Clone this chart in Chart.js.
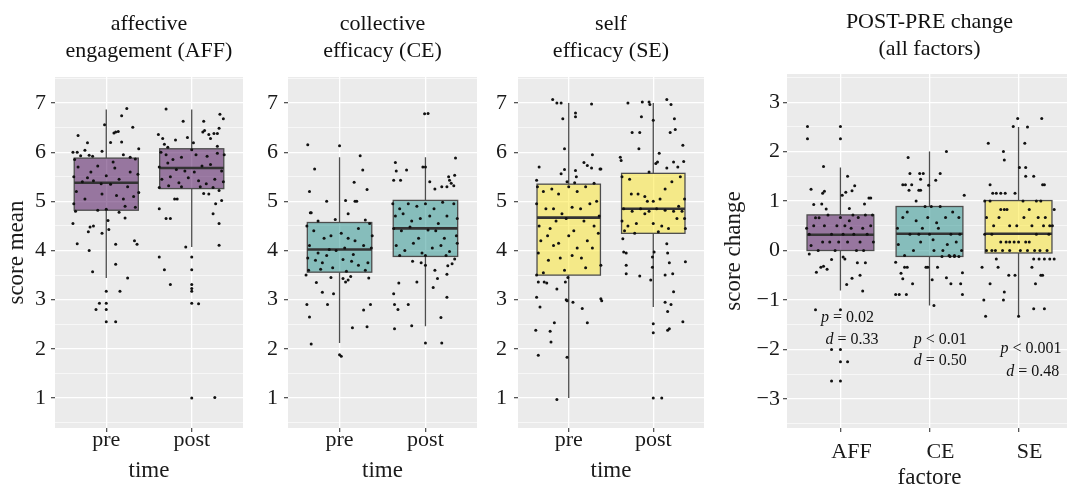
<!DOCTYPE html>
<html>
<head>
<meta charset="utf-8">
<script src="https://cdn.jsdelivr.net/npm/chart.js@4.4.0/dist/chart.umd.min.js"></script>
<style>
  body { margin: 0; background: #fff; width: 1067px; height: 488px; overflow: hidden; position: relative; }
  canvas { position: absolute; top: 0; }
</style>
</head>
<body>
<canvas id="c1"></canvas>
<canvas id="c2"></canvas>
<canvas id="c3"></canvas>
<canvas id="c4"></canvas>
<script>
// categories and tick labels
const timeLabels = ['pre', 'post'];
const factorLabels = ['AFF', 'CE', 'SE'];
const meanTicks = [1, 2, 3, 4, 5, 6, 7];
const changeTicks = [-3, -2, -1, 0, 1, 2, 3];

// box stats per category: [whisker low, Q1, median, Q3, whisker high]
const affBox = [[3.44, 4.82, 5.38, 5.88, 6.87], [4.07, 5.26, 5.68, 6.07, 6.87]];
const ceBox = [[2.12, 3.56, 4.02, 4.57, 5.90], [2.46, 3.88, 4.45, 5.02, 5.90]];
const seBox = [[1.00, 3.50, 4.67, 5.35, 7.00], [2.85, 4.35, 4.85, 5.57, 7.00]];
const changeBox = [[-0.81, 0.00, 0.32, 0.72, 1.68], [-1.11, -0.12, 0.34, 0.89, 2.00], [-1.35, -0.05, 0.34, 1.01, 2.50]];

// jittered observations: [jitter, score]
const affPre = [[0.24,6.89],[0.18,6.74],[-0.02,6.56],[0.31,6.51],[0.09,6.39],[0.11,6.41],[0.14,6.42],[-0.33,6.34],[-0.22,6.19],[0.05,6.2],[0.18,6.21],[0.38,6.07],[-0.05,6.02],[-0.39,6.0],[-0.34,6.0],[-0.25,6.04],
  [-0.37,5.85],[-0.3,5.93],[-0.2,5.94],[-0.16,5.92],[0.2,5.95],[0.28,5.9],[0.34,5.86],[-0.33,5.7],[-0.1,5.72],[0.1,5.68],[0.28,5.6],[0.37,5.55],[-0.38,5.5],[-0.22,5.48],[0.0,5.52],[0.15,5.45],[0.25,5.3],[-0.28,5.4],[-0.15,5.42],[-0.06,5.36],[0.05,5.35],[-0.35,5.2],[-0.05,5.15],[0.12,5.12],[0.32,5.1],[0.38,5.18],[-0.25,5.05],[0.2,5.05],[-0.38,4.95],[-0.1,4.82],[0.0,4.84],[0.22,4.9],[0.34,4.88],[-0.36,4.8],[-0.18,5.6],[0.08,5.8],
  [-0.39,4.55],[-0.34,4.14],[-0.2,4.0],[-0.19,4.48],[-0.15,4.5],[-0.21,4.38],[-0.16,3.57],[-0.12,2.8],[-0.08,2.93],[0,3.17],[0,2.93],[0,2.8],[0,2.55],[0.11,2.55],[0.16,3.17],[0.11,3.72],[0.11,4.13],[-0.05,4.35],[0.02,4.61],[0.03,4.43],[0.25,3.44],[0.33,4.2],[0.36,4.13],[0.22,4.66],[0.15,4.78]];
const affPost = [[-0.3,6.88],[-0.1,6.63],[-0.39,6.36],[-0.34,6.28],[-0.32,6.16],[-0.19,6.25],[0.02,6.19],[0.14,6.63],[0.15,6.44],[0.13,6.41],[0.2,6.36],[0.26,6.38],[0.22,6.28],[0.33,6.77],[0.37,6.68],[0.32,6.49],[0.3,6.38],[-0.05,6.3],[-0.28,6.1],[0.0,6.05],[0.3,6.12],
  [-0.36,6.0],[-0.3,5.95],[-0.22,5.85],[-0.12,5.9],[0.05,5.95],[0.18,5.92],[0.3,5.98],[0.38,5.95],[-0.38,5.7],[-0.28,5.78],[-0.18,5.65],[-0.08,5.62],[0.03,5.6],[0.12,5.72],[0.22,5.75],[0.35,5.62],[-0.35,5.45],[-0.25,5.5],[-0.15,5.38],[-0.04,5.48],[0.08,5.42],[0.17,5.36],[0.27,5.45],[0.37,5.4],[-0.38,5.28],[-0.27,5.32],[-0.12,5.3],[0.1,5.3],[0.25,5.28],[0.32,5.22],
  [-0.38,4.85],[-0.3,4.65],[-0.25,4.65],[-0.38,3.87],[-0.32,3.61],[-0.25,3.31],[-0.07,4.07],[0,3.87],[0,3.61],[0,3.31],[0,3.23],[0,3.17],[0,2.93],[0.08,2.92],[0,1.0],[0.27,1.01],[0.32,4.11],[0.32,4.55],[0.25,4.75],[0.35,5.02],[0.14,5.16],[0.2,5.15],[-0.2,5.05],[-0.17,5.05],[0.28,4.95]];
const cePre = [[-0.37,6.15],[0.0,6.13],[-0.29,5.66],[-0.35,5.2],[-0.34,4.77],[-0.33,4.77],[-0.15,5.0],[0.07,5.02],[0.17,5.39],[0.24,5.93],[0.27,5.64],[0.32,5.24],[0.18,5.0],[0.2,5.0],[-0.05,4.63],[0.1,4.75],[0.3,4.62],[-0.25,4.6],
  [-0.38,4.5],[-0.3,4.4],[-0.18,4.25],[-0.1,4.3],[0.02,4.35],[0.1,4.25],[0.22,4.45],[0.35,4.55],[0.38,4.3],[-0.35,4.1],[-0.25,3.95],[-0.12,4.02],[-0.04,4.0],[0.06,4.05],[0.16,3.92],[0.28,4.1],[0.37,4.05],[-0.37,3.85],[-0.28,3.8],[-0.2,3.75],[-0.08,3.65],[0.04,3.82],[0.14,3.78],[0.22,3.7],[0.33,3.75],[-0.36,3.6],[-0.22,3.62],[0.08,3.58],[0.3,3.6],[-0.15,3.9],[0.18,4.2],
  [-0.39,3.5],[-0.38,2.9],[-0.35,2.65],[-0.33,2.1],[-0.2,3.15],[-0.14,2.9],[-0.07,3.12],[0.0,1.88],[0.02,1.85],[0.15,2.43],[0.32,2.45],[0.36,2.9],[0.28,2.79],[0.34,3.44],[0.04,3.43],[0.07,3.36],[0.13,3.47],[-0.1,3.45],[-0.27,3.35],[0.1,3.4]];
const cePost = [[-0.37,5.43],[-0.34,5.62],[-0.29,5.43],[-0.22,5.64],[-0.03,5.7],[0.0,5.7],[-0.01,6.78],[0.03,6.79],[0.27,5.5],[0.19,5.3],[0.25,5.3],[0.28,5.43],[0.3,5.37],[0.33,5.32],[0.34,5.53],[0.35,5.88],[0.11,5.25],[0.05,5.4],[-0.35,5.79],
  [-0.38,4.95],[-0.3,4.85],[-0.2,4.95],[-0.1,4.9],[0.0,4.95],[0.1,4.85],[0.2,4.98],[0.33,4.95],[-0.35,4.7],[-0.26,4.75],[-0.16,4.6],[-0.06,4.65],[0.05,4.7],[0.15,4.55],[0.25,4.7],[0.37,4.65],[-0.37,4.45],[-0.28,4.4],[-0.18,4.48],[-0.08,4.25],[0.03,4.42],[0.12,4.4],[0.22,4.25],[0.36,4.3],[-0.34,4.1],[-0.24,4.0],[-0.14,4.15],[-0.04,3.95],[0.08,4.05],[0.18,4.1],[0.28,3.98],[0.37,4.15],[-0.3,3.9],[0.0,3.9],[0.24,3.9],
  [-0.37,3.12],[-0.36,2.9],[-0.32,2.8],[-0.36,2.41],[-0.31,3.34],[-0.2,2.9],[-0.16,2.47],[-0.1,3.36],[0.0,2.12],[0.11,3.6],[0.09,3.25],[0.14,3.43],[0.19,2.12],[0.18,2.64],[0.25,3.05],[0.25,3.52],[0.26,3.69],[0.31,3.73],[0.34,3.83],[-0.05,3.75],[-0.15,3.78],[0.0,3.7]];
const sePre = [[-0.19,7.07],[-0.14,7.0],[-0.09,7.0],[-0.07,6.68],[0.08,6.8],[0.08,6.72],[0.27,6.98],[-0.05,6.07],[-0.09,5.56],[-0.05,5.65],[-0.35,5.7],[-0.38,5.43],[0.08,5.63],[0.09,5.5],[0.07,5.38],[0.18,5.79],[0.22,5.73],[0.28,5.95],[0.27,5.68],[0.37,5.66],[0.38,5.66],[0.3,5.37],[-0.02,5.4],
  [-0.37,5.3],[-0.3,5.2],[-0.2,5.25],[-0.12,5.15],[0.0,5.3],[0.1,5.2],[0.2,5.3],[0.33,5.0],[-0.38,4.95],[-0.27,4.85],[-0.18,4.85],[-0.08,4.75],[0.04,4.88],[0.14,4.85],[0.25,4.95],[0.36,4.7],[-0.35,4.5],[-0.22,4.45],[-0.15,4.6],[-0.03,4.65],[0.06,4.4],[0.18,4.6],[0.3,4.5],[-0.33,4.2],[-0.25,4.3],[-0.12,4.15],[0.0,4.3],[0.1,4.05],[0.22,4.2],[0.35,4.35],[-0.36,3.95],[-0.24,3.8],[-0.1,3.85],[0.04,3.9],[0.15,3.85],[0.28,4.05],[0.38,3.7],[-0.3,3.55],[-0.05,3.6],[0.2,3.65],[-0.18,4.1],
  [-0.38,3.5],[-0.36,3.36],[-0.29,3.36],[-0.26,3.34],[-0.38,3.05],[-0.34,2.85],[-0.39,2.38],[-0.36,1.87],[-0.17,2.53],[-0.22,2.36],[-0.21,2.14],[-0.14,0.97],[-0.14,3.22],[-0.04,3.36],[-0.03,3.0],[-0.02,2.98],[-0.02,1.83],[0.05,2.95],[0.16,2.82],[0.22,2.53],[0.38,3.02],[0.39,2.98],[-0.01,3.45]];
const sePost = [[-0.3,7.0],[-0.13,7.02],[-0.05,7.02],[-0.04,6.97],[0.16,7.07],[0.21,6.97],[0.25,6.68],[0.26,6.46],[0.2,6.4],[-0.25,6.4],[-0.14,6.72],[-0.17,6.07],[-0.16,6.4],[0.0,6.65],[-0.39,5.9],[-0.38,5.83],[0.07,5.98],[0.03,5.77],[0.16,5.68],[0.24,5.8],[0.29,5.7],[0.35,6.14],[0.36,5.81],[0.05,5.8],[-0.05,5.6],
  [-0.37,5.5],[-0.28,5.45],[-0.18,5.15],[-0.26,5.15],[-0.1,5.1],[0.0,5.0],[0.08,5.05],[0.14,5.25],[0.22,5.4],[0.32,5.5],[0.37,5.05],[-0.35,4.85],[-0.25,4.8],[-0.15,4.85],[-0.05,4.8],[0.04,4.85],[0.14,4.82],[0.24,4.8],[0.34,4.8],[0.37,4.65],[-0.37,4.6],[-0.3,4.5],[-0.2,4.55],[-0.1,4.75],[0.0,4.55],[0.1,4.5],[0.18,4.45],[0.28,4.65],[0.38,4.45],[-0.34,4.4],[-0.22,4.35],[0.06,4.38],[0.3,4.9],[-0.07,5.0],
  [-0.36,4.24],[-0.35,3.97],[-0.32,3.95],[-0.32,3.7],[-0.32,3.53],[-0.16,3.48],[-0.03,3.4],[-0.01,3.66],[0.01,3.97],[-0.01,3.87],[0.0,2.51],[0.0,2.33],[0.0,1.0],[0.1,1.0],[0.14,3.5],[0.17,3.95],[0.19,3.75],[0.16,4.14],[0.23,3.53],[0.24,3.16],[0.14,2.95],[0.17,2.76],[0.21,2.9],[0.19,2.41],[0.17,2.38],[0.35,2.55],[0.38,3.77]];
const chgAff = [[-0.37,2.51],[-0.37,2.26],[0,2.51],[0,2.26],[-0.19,1.7],[-0.33,1.24],[-0.2,1.16],[-0.18,1.2],[0.08,1.5],[0.02,1.12],[0.06,1.18],[0.13,1.21],[0.16,1.31],[-0.3,0.93],[-0.21,0.94],[-0.16,0.84],[0.27,0.94],[0.32,1.06],[0.34,1.06],[0.1,0.85],
  [-0.38,0.45],[-0.35,0.33],[-0.3,0.5],[-0.28,0.66],[-0.24,0.66],[-0.2,0.17],[-0.18,0.5],[-0.14,0.72],[-0.1,0.33],[-0.06,0.0],[-0.04,0.5],[0.0,0.67],[0.03,0.33],[0.05,0.5],[0.08,0.17],[0.1,0.6],[0.12,0.45],[0.15,0.33],[0.18,0.0],[0.2,0.67],[0.22,0.17],[0.25,0.45],[0.28,0.72],[0.3,0.33],[0.34,0.5],[0.37,0.17],[-0.25,0.0],[-0.33,0.1],[0.36,0.72],[-0.12,0.17],[0.14,0.72],[0.26,0.0],[-0.02,0.17],
  [-0.35,-0.07],[-0.27,-0.44],[-0.22,-0.34],[-0.19,-0.32],[-0.15,-0.38],[-0.1,-0.18],[0.03,-0.13],[0.05,-0.17],[0.07,-0.69],[0.13,-0.56],[0.19,-0.25],[0.22,-0.5],[0.25,-0.82],[0.28,-0.25],[-0.28,-1.2],[0,-1.2],[-0.1,-2.0],[0,-2.0],[0,-2.25],[0.08,-2.25],[-0.1,-2.64],[0,-2.64]];
const chgCe = [[-0.24,1.88],[-0.22,1.56],[-0.11,1.56],[-0.07,1.56],[-0.3,1.33],[-0.27,1.33],[-0.23,1.22],[-0.12,1.22],[-0.1,1.22],[-0.1,1.44],[-0.01,1.32],[0.07,1.42],[0.12,1.56],[0.19,2.0],[0.39,1.12],[-0.15,1.0],[-0.2,1.33],[0.02,0.89],
  [-0.36,0.45],[-0.35,0.12],[-0.3,0.67],[-0.25,0.78],[-0.22,0.33],[-0.18,0.0],[-0.15,0.6],[-0.12,0.33],[-0.08,0.45],[-0.05,0.89],[0.0,0.33],[0.05,0.0],[0.08,0.56],[0.1,0.45],[0.12,0.89],[0.15,0.0],[0.18,0.67],[0.2,0.12],[0.24,0.33],[0.26,0.78],[0.3,0.17],[0.33,0.67],[0.36,0.0],[-0.28,-0.1],[0.22,-0.1],[0.28,-0.1],[-0.02,0.67],[0.04,0.22],[-0.1,0.17],[0.34,0.33],
  [-0.38,-0.24],[-0.32,-0.46],[-0.3,-0.57],[-0.28,-0.34],[-0.25,-0.34],[-0.19,-0.67],[-0.38,-0.89],[-0.34,-0.89],[-0.26,-0.89],[-0.04,-0.34],[-0.02,-0.34],[0.03,-0.59],[0.05,-1.11],[0.09,-0.34],[0.19,-0.55],[0.24,-0.67],[0.35,-0.67],[0.37,-0.45],[0.37,-0.89],[0.14,-0.12],[0.23,-0.12],[0.28,-0.12],[0.33,-0.12]];
const chgSe = [[-0.01,2.67],[0.26,2.67],[-0.06,2.51],[0.1,2.5],[-0.34,2.17],[0.07,2.17],[-0.17,2.0],[-0.16,1.83],[0.01,1.68],[0.08,1.68],[0.08,1.5],[0.17,1.5],[-0.32,1.33],[0.27,1.33],[0.29,1.33],[-0.29,1.16],[-0.25,1.16],[-0.2,1.16],[-0.15,1.16],[-0.04,1.16],[0.4,0.83],
  [-0.38,1.0],[-0.32,1.0],[-0.2,0.83],[-0.16,0.83],[-0.13,0.83],[0.05,1.0],[0.12,0.83],[0.2,1.0],[0.25,1.0],[0.3,0.67],[0.35,0.5],[-0.36,0.67],[-0.28,0.5],[-0.22,0.67],[-0.1,0.5],[-0.02,0.5],[0.06,0.67],[0.15,0.5],[0.22,0.67],[0.28,0.5],[-0.38,0.33],[-0.3,0.33],[-0.2,0.17],[-0.14,0.17],[-0.1,0.17],[-0.05,0.17],[0.0,0.17],[0.08,0.17],[0.12,0.17],[0.2,0.33],[0.34,0.33],[-0.36,0.0],[-0.3,0.0],[-0.26,0.0],[-0.18,0.0],[-0.1,0.0],[0.02,0.0],[0.1,0.0],[0.18,0.0],[0.24,0.0],[0.32,0.0],[0.38,0.5],
  [-0.41,-0.34],[-0.23,-0.34],[-0.32,-0.67],[-0.39,-1.0],[-0.17,-1.0],[-0.16,-0.84],[-0.37,-1.33],[-0.11,-0.5],[-0.04,-0.5],[0.17,-0.17],[0.23,-0.17],[0.29,-0.17],[0.4,-0.17],[0.25,-0.5],[0.27,-0.5],[0.19,-0.67],[0.17,-1.18],[0.29,-1.18],[0.15,-0.34],[0.0,-1.33],[-0.25,-0.17],[0.35,-0.17]];

// test statistics shown under the change boxes
const pRel = ['=', '<', '<'];
const pVals = ['0.02', '0.01', '0.001'];
const dVals = ['0.33', '0.50', '0.48'];
// where those labels sit, in axis units
const pAt = [[1.08, -1.37], [2.12, -1.81], [3.14, -1.98]];
const dAt = [[1.13, -1.80], [2.12, -2.24], [3.16, -2.46]];

const SERIF = "'Liberation Serif', 'Times New Roman', serif";
const PURPLE = 'rgba(68, 1, 84, 0.5)';
const TEAL = 'rgba(33, 144, 140, 0.5)';
const YELLOW = 'rgba(253, 231, 37, 0.5)';

const panelPlugin = {
  id: 'panel',
  beforeDraw(chart) {
    const a = chart.chartArea, ctx = chart.ctx;
    ctx.save();
    ctx.fillStyle = '#ebebeb';
    ctx.fillRect(a.left, a.top, a.right - a.left, a.bottom - a.top);
    ctx.restore();
  },
  beforeDatasetsDraw(chart, args, opts) {
    const ctx = chart.ctx, x = chart.scales.x, y = chart.scales.y;
    opts.stats.forEach((s, i) => {
      const c = i + 1;
      const xc = x.getPixelForValue(c);
      const x0 = x.getPixelForValue(c - 0.375), x1 = x.getPixelForValue(c + 0.375);
      const [lo, q1, med, q3, hi] = s.map(v => y.getPixelForValue(v));
      ctx.save();
      ctx.strokeStyle = '#4d4d4d';
      ctx.lineWidth = 1.3;
      ctx.beginPath();
      ctx.moveTo(xc, q3); ctx.lineTo(xc, hi);
      ctx.moveTo(xc, q1); ctx.lineTo(xc, lo);
      ctx.stroke();
      ctx.fillStyle = opts.colors[i];
      ctx.fillRect(x0, q3, x1 - x0, q1 - q3);
      ctx.strokeRect(x0, q3, x1 - x0, q1 - q3);
      ctx.strokeStyle = '#333';
      ctx.lineWidth = 2.6;
      ctx.beginPath();
      ctx.moveTo(x0, med); ctx.lineTo(x1, med);
      ctx.stroke();
      ctx.restore();
    });
  },
  afterDraw(chart, args, opts) {
    const ctx = chart.ctx, a = chart.chartArea;
    const cx = (a.left + a.right) / 2;
    ctx.save();
    ctx.fillStyle = '#111';
    ctx.textAlign = 'center';
    ctx.textBaseline = 'alphabetic';
    ctx.font = '22px ' + SERIF;
    opts.title.forEach((line, i) => ctx.fillText(line, cx, opts.titleBase[i]));
    if (opts.stat) {
      const x = chart.scales.x, y = chart.scales.y;
      ctx.font = '16px ' + SERIF;
      ctx.textBaseline = 'middle';
      ctx.textAlign = 'left';
      const drawStat = (sym, rest, at) => {
        ctx.font = 'italic 16px ' + SERIF;
        const w1 = ctx.measureText(sym).width;
        ctx.font = '16px ' + SERIF;
        const w2 = ctx.measureText(rest).width;
        const left = x.getPixelForValue(at[0]) - (w1 + w2) / 2;
        const py = y.getPixelForValue(at[1]);
        ctx.font = 'italic 16px ' + SERIF;
        ctx.fillText(sym, left, py);
        ctx.font = '16px ' + SERIF;
        ctx.fillText(rest, left + w1, py);
      };
      pVals.forEach((v, i) => {
        drawStat('p', ' ' + pRel[i] + ' ' + v, pAt[i]);
        drawStat('d', ' = ' + dVals[i], dAt[i]);
      });
    }
    ctx.restore();
  }
};

function fmt(v) {
  return String(v).replace('-', '\u2212');
}

function makePanel(p) {
  const el = document.getElementById(p.id);
  el.width = p.width;
  el.height = 488;
  el.style.left = p.left + 'px';
  const datasets = p.groups.map((g, i) => ({
    type: 'scatter',
    data: g.map(([dx, v]) => ({ x: i + 1 + dx, y: v })),
    pointRadius: 1.5,
    pointBackgroundColor: '#111',
    pointBorderWidth: 0
  }));
  new Chart(el.getContext('2d'), {
    type: 'scatter',
    data: { datasets },
    plugins: [panelPlugin],
    options: {
      responsive: false,
      animation: false,
      events: [],
      layout: { padding: { top: p.area[1], right: p.width - p.area[2], bottom: 0, left: 0 } },
      plugins: {
        legend: { display: false },
        tooltip: { enabled: false },
        panel: { stats: p.boxes, colors: p.colors, title: p.title, titleBase: p.titleBase, stat: p.stat }
      },
      scales: {
        x: {
          type: 'linear',
          min: 0.4,
          max: p.xMax,
          afterBuildTicks: s => { s.ticks = p.cats.map((_, i) => ({ value: i + 1 })); },
          afterFit: s => { s.height = 488 - p.area[3]; },
          ticks: {
            callback: v => p.cats[v - 1],
            autoSkip: false,
            maxRotation: 0,
            padding: p.xTickPad,
            labelOffset: p.labelOffset,
            color: '#1a1a1a',
            font: { family: SERIF, size: 22, lineHeight: 1 }
          },
          grid: { color: '#ffffff', lineWidth: 1.3, tickLength: 4, tickColor: '#555' },
          border: { display: false },
          title: {
            display: true,
            text: p.xTitle,
            color: '#1a1a1a',
            font: { family: SERIF, size: 23, lineHeight: 1 },
            padding: { top: 0, bottom: p.xTitlePad }
          }
        },
        y: {
          type: 'linear',
          min: p.yRange[0],
          max: p.yRange[1],
          afterBuildTicks: s => {
            const vals = [];
            for (let v = Math.ceil(s.min * 2) / 2; v <= s.max; v += 0.5) vals.push({ value: v });
            s.ticks = vals;
          },
          afterFit: s => { s.width = p.area[0]; },
          ticks: {
            callback: v => (p.yTicks.includes(v) ? fmt(v) : ''),
            autoSkip: false,
            padding: p.yTickPad,
            color: '#1a1a1a',
            font: { family: SERIF, size: 22, lineHeight: 1 }
          },
          grid: {
            color: '#ffffff',
            lineWidth: c => (Number.isInteger(c.tick.value) ? 1.3 : 0.6),
            tickLength: 4,
            tickColor: c => (Number.isInteger(c.tick.value) ? '#555' : 'rgba(0,0,0,0)')
          },
          border: { display: false },
          title: {
            display: !!p.yTitle,
            text: p.yTitle,
            color: '#1a1a1a',
            font: { family: SERIF, size: 23, lineHeight: 1 },
            padding: { top: p.yTitlePad, bottom: 0 }
          }
        }
      }
    }
  });
}

const common = { cats: timeLabels, xMax: 2.6, yRange: [0.39, 7.53], yTicks: meanTicks, xTickPad: -3, labelOffset: 0, xTitle: 'time', xTitlePad: 6, yTickPad: 5, titleBase: [30, 57] };

makePanel(Object.assign({}, common, {
  id: 'c1', left: 0, width: 250, area: [55, 77, 243, 428],
  groups: [affPre, affPost], boxes: affBox, colors: [PURPLE, PURPLE],
  title: ['affective', 'engagement (AFF)'], yTitle: 'score mean', yTitlePad: 5
}));
makePanel(Object.assign({}, common, {
  id: 'c2', left: 250, width: 232, area: [38, 77, 227, 428],
  groups: [cePre, cePost], boxes: ceBox, colors: [TEAL, TEAL],
  title: ['collective', 'efficacy (CE)'], yTickPad: 6
}));
makePanel(Object.assign({}, common, {
  id: 'c3', left: 482, width: 230, area: [36, 77, 222, 428],
  groups: [sePre, sePost], boxes: seBox, colors: [YELLOW, YELLOW],
  title: ['self', 'efficacy (SE)'], yTickPad: 7
}));
makePanel(Object.assign({}, common, {
  id: 'c4', left: 712, width: 364, area: [75, 74, 364, 428],
  cats: factorLabels, xMax: 3.6, yRange: [-3.59, 3.57], yTicks: changeTicks,
  groups: [chgAff, chgCe, chgSe], boxes: changeBox, colors: [PURPLE, TEAL, YELLOW],
  title: ['POST-PRE change', '(all factors)'], titleBase: [28, 55],
  xTitle: 'factore', xTitlePad: -1, xTickPad: 9, labelOffset: 11,
  yTitle: 'score change', yTitlePad: 10, yTickPad: 3, stat: true
}));
</script>
</body>
</html>
